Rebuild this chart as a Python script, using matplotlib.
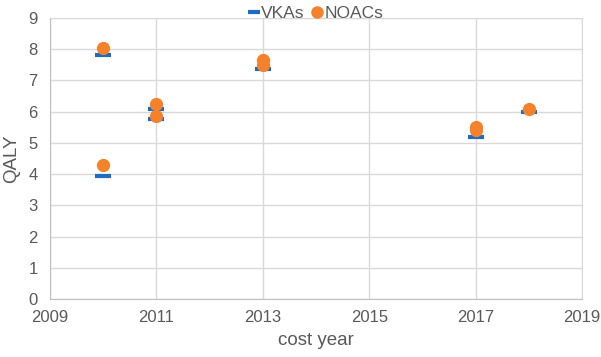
import matplotlib
matplotlib.use("Agg")
import matplotlib.pyplot as plt
from matplotlib.lines import Line2D

plt.rcParams["font.family"] = ["Liberation Sans", "DejaVu Sans"]

# ── data ────────────────────────────────────────────────────
vka_year = [2010, 2010, 2011, 2011, 2013, 2017, 2018]
vka_qaly = [7.83, 3.93, 6.10, 5.75, 7.38, 5.18, 5.98]
noac_year = [2010, 2010, 2011, 2011, 2013, 2013, 2017, 2017, 2018]
noac_qaly = [8.05, 4.28, 6.25, 5.87, 7.65, 7.50, 5.50, 5.42, 6.07]

x_ticks = [2009, 2011, 2013, 2015, 2017, 2019]
y_ticks = list(range(0, 10))

BLUE = "#1F6BC4"
ORANGE = "#F5822A"
GRID = "#D9D9D9"
TXT = "#595959"

fig = plt.figure(figsize=(6.01, 3.57), dpi=100)
ax = fig.add_axes([50 / 601, 58 / 357, 532 / 601, 281 / 357])

ax.plot(vka_year, vka_qaly, ls="none", marker="_", ms=11.5, mew=3, color=BLUE, zorder=3)
ax.plot(noac_year, noac_qaly, ls="none", marker="o", ms=8.5, color=ORANGE, zorder=4)

ax.set_xlim(2009, 2019); ax.set_ylim(0, 9)
ax.set_xticks(x_ticks); ax.set_yticks(y_ticks)
ax.grid(True, color=GRID, lw=1)
ax.set_axisbelow(True)
for s in ax.spines.values():
    s.set_color(GRID)
ax.spines["left"].set_color("#BFBFBF"); ax.spines["bottom"].set_color("#BFBFBF")
ax.tick_params(axis="x", length=0, labelsize=12, colors=TXT, pad=8)
ax.tick_params(axis="y", length=0, labelsize=12, colors=TXT, pad=9)
ax.set_xlabel("cost year", fontsize=13.5, color=TXT, labelpad=5)
ax.set_ylabel("QALY", fontsize=13.5, color=TXT, labelpad=6)

handles = [Line2D([], [], ls="none", marker="_", ms=8, mew=3, color=BLUE),
           Line2D([], [], ls="none", marker="o", ms=8, color=ORANGE)]
ax.legend(handles, ["VKAs", "NOACs"], loc="lower center", bbox_to_anchor=(0.5, 0.99),
          ncol=2, frameon=False, fontsize=12.5, labelcolor=TXT, handlelength=0.6,
          handletextpad=0.15, columnspacing=0.4, borderaxespad=0, borderpad=0)

fig.savefig("out.png", dpi=100)
